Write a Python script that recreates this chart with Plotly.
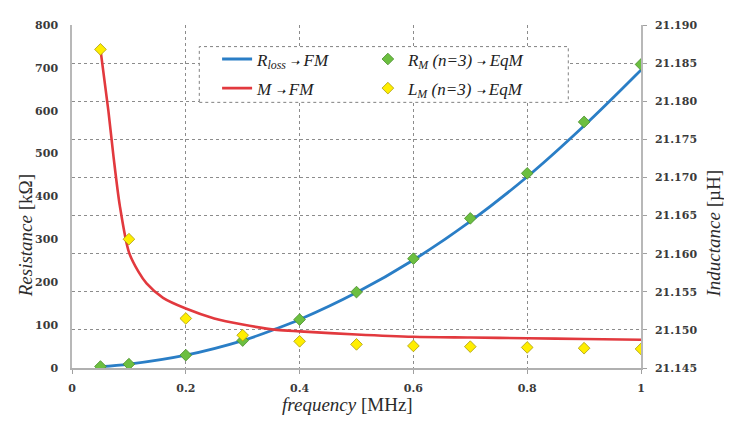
import plotly.graph_objects as go

# ---- data ----
freq_pts = [0.05, 0.1, 0.2, 0.3, 0.4, 0.5, 0.6, 0.7, 0.8, 0.9, 1.0]
r_m_eqm = [3.5, 9, 30, 64, 113, 177, 255, 349, 454, 574, 708]          # kOhm
l_m_eqm = [21.1868, 21.1619, 21.1515, 21.1493, 21.1485, 21.1481,
           21.1479, 21.1478, 21.1477, 21.1476, 21.1475]                 # uH

freq_rloss = [0.05, 0.1, 0.2, 0.3, 0.36, 0.4, 0.5, 0.6, 0.7, 0.8, 0.9, 1.0]
r_loss_fm = [3, 9, 30, 64, 92, 113, 176, 252, 342, 446, 565, 695]       # kOhm

freq_m = [0.05, 0.064, 0.073, 0.084, 0.1, 0.117, 0.131, 0.16, 0.2, 0.25,
          0.3, 0.36, 0.4, 0.5, 0.6, 0.7, 0.8, 0.9, 1.0]
m_fm = [21.1868, 21.1787, 21.1727, 21.1663, 21.1602, 21.1576, 21.1561,
        21.1542, 21.1528, 21.1515, 21.1507, 21.1500, 21.1498, 21.1494,
        21.1491, 21.1490, 21.1489, 21.1488, 21.1487]                    # uH

x_ticks = [0, 0.2, 0.4, 0.6, 0.8, 1.0]
x_ticktext = ["0", "0.2", "0.4", "0.6", "0.8", "1"]
y_ticks = [0, 100, 200, 300, 400, 500, 600, 700, 800]
y2_ticks = [21.145, 21.150, 21.155, 21.160, 21.165, 21.170, 21.175, 21.180, 21.185, 21.190]
y2_ticktext = ["21.145", "21.150", "21.155", "21.160", "21.165", "21.170",
               "21.175", "21.180", "21.185", "21.190"]

ARROW = '<span style="font-size:11px">➝</span>'
SERIF = "Liberation Serif"
TICKFONT = dict(family="DejaVu Serif", size=11, color="#3a3a3a", weight="bold")

fig = go.Figure()

fig.add_trace(go.Scatter(
    x=freq_rloss, y=r_loss_fm, mode="lines", yaxis="y",
    line=dict(color="#2a7ec6", width=2.8, shape="spline", smoothing=1.0),
    name=f"R<sub>loss</sub> {ARROW} FM", legend="legend", legendgroup="a"))

fig.add_trace(go.Scatter(
    x=freq_pts, y=r_m_eqm, mode="markers", yaxis="y",
    marker=dict(symbol="diamond", size=9, color="#6cbf40",
                line=dict(color="#4a8d2c", width=0.8)),
    name=f"R<sub>M</sub> (n=3) {ARROW} EqM", legend="legend2", legendgroup="b"))

fig.add_trace(go.Scatter(
    x=freq_m, y=m_fm, mode="lines", yaxis="y2",
    line=dict(color="#e2393e", width=2.6, shape="spline", smoothing=0.8),
    name=f"M {ARROW} FM", legend="legend", legendgroup="c"))

fig.add_trace(go.Scatter(
    x=freq_pts, y=l_m_eqm, mode="markers", yaxis="y2",
    marker=dict(symbol="diamond", size=9, color="#ffee00",
                line=dict(color="#a89a10", width=0.8)),
    name=f"L<sub>M</sub> (n=3) {ARROW} EqM", legend="legend2", legendgroup="d"))

legend_common = dict(
    bgcolor="rgba(0,0,0,0)", borderwidth=0, orientation="v",
    font=dict(family=SERIF, size=17, color="#222222", style="italic"),
    xanchor="left", yanchor="top", y=0.952, traceorder="grouped",
    tracegroupgap=4, itemwidth=30,
)

# page body has an 8px margin: shift the plot area so it lands where the reference has it
fig.update_layout(
    width=732, height=421,
    margin=dict(l=64, r=99, t=11, b=61),
    paper_bgcolor="white", plot_bgcolor="white",
    showlegend=True,
    legend=dict(**legend_common, x=0.255),
    legend2=dict(**legend_common, x=0.52),
    xaxis=dict(
        range=[0, 1], tickvals=x_ticks, ticktext=x_ticktext,
        showgrid=True, gridcolor="#8c8c8c", griddash="dot", gridwidth=1,
        showline=True, linecolor="#b0b0b0", linewidth=1.5,
        ticks="outside", ticklen=4, tickcolor="#a0a0a0",
        tickfont=TICKFONT, zeroline=False, ticklabelstandoff=5,
    ),
    yaxis=dict(
        range=[0, 800], tickvals=y_ticks,
        showgrid=False, showline=True, linecolor="#b8b8b8", linewidth=1.5,
        ticks="", tickfont=TICKFONT, zeroline=False, ticklabelstandoff=10,
    ),
    yaxis2=dict(
        range=[21.145, 21.190], tickvals=y2_ticks, ticktext=y2_ticktext,
        overlaying="y", side="right",
        showgrid=True, gridcolor="#8c8c8c", griddash="dot", gridwidth=1,
        showline=True, linecolor="#b8b8b8", linewidth=1.5,
        ticks="outside", ticklen=4, tickcolor="#a0a0a0",
        tickfont=TICKFONT, zeroline=False, ticklabelstandoff=6,
    ),
    shapes=[dict(
        type="rect", xref="paper", yref="paper",
        x0=0.2237, x1=0.8722, y0=0.7745, y1=0.937,
        line=dict(color="#808080", width=1, dash="dot"),
        fillcolor="white", layer="above",
    )],
    annotations=[
        dict(text="<i>Resistance</i> [kΩ]", xref="paper", yref="paper",
             x=-0.0826, y=0.384, xanchor="center", yanchor="middle",
             textangle=-90, showarrow=False,
             font=dict(family=SERIF, size=19, color="#2b2b2b")),
        dict(text="<i>Inductance</i> [µH]", xref="paper", yref="paper",
             x=1.127, y=0.39, xanchor="center", yanchor="middle",
             textangle=-90, showarrow=False,
             font=dict(family=SERIF, size=19, color="#2b2b2b")),
        dict(text="<i>frequency</i> [MHz]", xref="paper", yref="paper",
             x=0.485, y=-0.106, xanchor="center", yanchor="middle", showarrow=False,
             font=dict(family=SERIF, size=19, color="#2b2b2b")),
    ],
)

fig.write_html("out.html")
